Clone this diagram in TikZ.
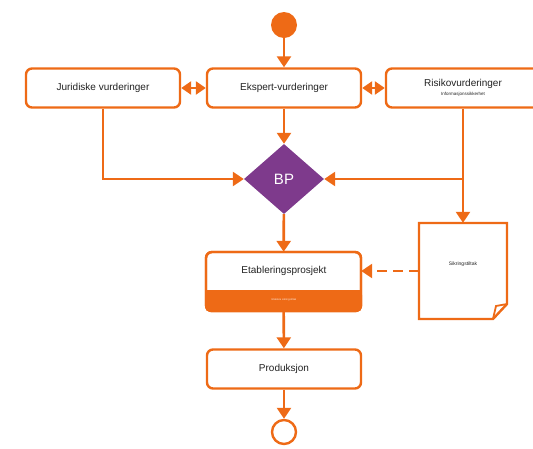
\documentclass[tikz,border=0pt]{standalone}
\usepackage{fontspec}
\setmainfont{Liberation Sans}
\usetikzlibrary{arrows.meta,shapes.geometric,calc}
\definecolor{org}{HTML}{EE6A16}
\definecolor{purp}{HTML}{7E3A8C}
\definecolor{txt}{HTML}{222222}
\begin{document}
\begin{tikzpicture}[x=1pt,y=-1pt,
  box/.style={draw=org,line width=2.4pt,rounded corners=6pt,fill=white,minimum width=154pt,minimum height=39pt,inner sep=0pt,text=txt,font=\fontsize{10}{12}\selectfont},
  conn/.style={draw=org,line width=2.6pt,-{Triangle[width=14pt,length=11pt]}},
  dconn/.style={draw=org,line width=2.6pt,{Triangle[width=13pt,length=10pt]}-{Triangle[width=13pt,length=10pt]}},
  plain/.style={draw=org,line width=2.6pt}]
\useasboundingbox (0,0) rectangle (533,448);
\clip (0,0) rectangle (533,448);
% start
\node[circle,fill=org,minimum size=26pt,inner sep=0pt] (start) at (284,25) {};
% top row
\node[box] (jur) at (103,88) {Juridiske vurderinger};
\node[box] (eks) at (284,88) {Ekspert-vurderinger};
\node[box,align=center] (ris) at (463,88) {Risikovurderinger\\[-3pt]{\fontsize{4.5}{5}\selectfont Informasjonssikkerhet}};
% diamond
\node[diamond,fill=purp,minimum width=80pt,minimum height=70pt,inner sep=0pt,text=white,font=\fontsize{15}{17}\selectfont] (bp) at (284,179) {BP};
% etablering
\draw[org,line width=2.4pt,rounded corners=6pt,fill=white] (206,252) rectangle (361,311);
\fill[org,rounded corners=5pt] (205,290) rectangle (362,312);
\fill[org] (205,290) rectangle (362,300);
\draw[org,line width=2.4pt,rounded corners=6pt] (206,252) rectangle (361,311);
\node[minimum width=155pt,minimum height=59pt,inner sep=0pt] (eta) at (283.5,281.5) {};
\node[text=txt,font=\fontsize{10}{12}\selectfont] (etat) at (284,271) {Etableringsprosjekt};
\node[text=white!85!org,font=\fontsize{2.6}{3}\selectfont] (etab) at (284,300) {Etablere sikringstiltak};
% produksjon
\node[box] (pro) at (284,369) {Produksjon};
% end
\node[circle,draw=org,line width=2.4pt,fill=white,minimum size=24pt,inner sep=0pt] (end) at (284,432) {};
% note
\draw[org,line width=2.4pt,fill=white,line join=miter] (419,223) -- (507,223) -- (507,304) -- (493,319) -- (419,319) -- cycle;
\draw[org,line width=1.8pt,line join=miter] (507,304) -- (496,306) -- (493,319);
\node[minimum width=88pt,minimum height=96pt,inner sep=0pt] (sik) at (463,271) {};
\node[text=txt,font=\fontsize{5}{6}\selectfont] (sikt) at (463,264) {Sikringstiltak};
% connectors
\draw[conn] (start) -- (eks);
\draw[dconn] (jur) -- (eks);
\draw[dconn] (eks) -- (ris);
\draw[conn] (eks) -- (bp);
\draw[conn] (jur.south) |- (bp.west);
\coordinate (rj) at (ris.south |- bp.east);
\draw[conn] (ris.south) |- (bp.east);
\draw[conn] (rj) -- (sik.north);
\draw[conn] (bp) -- (eta);
\draw[conn,dash pattern=on 10pt off 6pt] (sik.west) -- (sik.west -| eta.east);
\draw[conn] (eta) -- (pro);
\draw[conn] (pro) -- (end);
\end{tikzpicture}
\end{document}
